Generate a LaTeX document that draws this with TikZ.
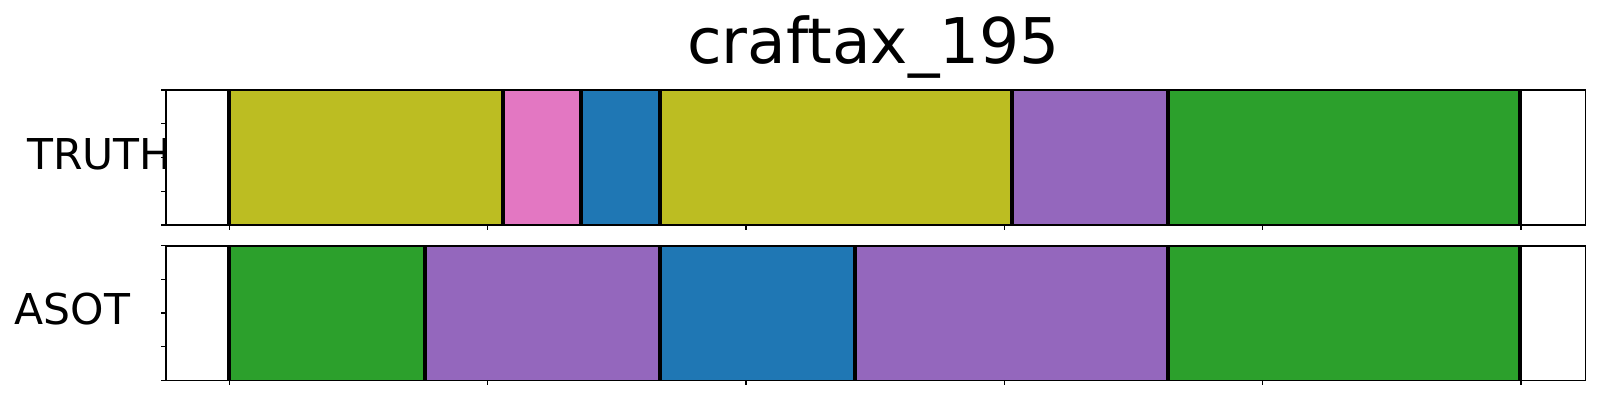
\documentclass[tikz,border=0pt]{standalone}
\usepackage{fontspec}
\setmainfont{DejaVu Sans}
\definecolor{tolive}{HTML}{BCBD22}
\definecolor{tpink}{HTML}{E377C2}
\definecolor{tblue}{HTML}{1F77B4}
\definecolor{tpurple}{HTML}{9467BD}
\definecolor{tgreen}{HTML}{2CA02C}
\begin{document}
\begin{tikzpicture}[x=1pt,y=-1pt,
  seg/.style={draw=none},
  bound/.style={line width=4pt,draw=black},
  frame/.style={line width=1.6pt,draw=black},
  tick/.style={line width=1.4pt,draw=black},
  lbl/.style={inner sep=0pt,anchor=base west,font=\fontsize{42.5}{50}\selectfont},
  ttl/.style={inner sep=0pt,anchor=base,font=\fontsize{63}{74}\selectfont}]
\useasboundingbox (0,0) rectangle (1600,400);
% top panel segments
\def\ta{90}\def\tb{225}
\fill[tolive] (229,\ta) rectangle (503,\tb);
\fill[tpink] (503,\ta) rectangle (581,\tb);
\fill[tblue] (581,\ta) rectangle (660,\tb);
\fill[tolive] (660,\ta) rectangle (1011.7,\tb);
\fill[tpurple] (1011.7,\ta) rectangle (1168,\tb);
\fill[tgreen] (1168,\ta) rectangle (1520,\tb);
\foreach \x in {229,503,581,660,1011.7,1168,1520}
  \draw[bound] (\x,\ta) -- (\x,\tb);
% bottom panel segments
\def\ba{245.7}\def\bb{380.3}
\fill[tgreen] (229,\ba) rectangle (425,\bb);
\fill[tpurple] (425,\ba) rectangle (660,\bb);
\fill[tblue] (660,\ba) rectangle (854.7,\bb);
\fill[tpurple] (854.7,\ba) rectangle (1168,\bb);
\fill[tgreen] (1168,\ba) rectangle (1520,\bb);
\foreach \x in {229,425,660,854.7,1168,1520}
  \draw[bound] (\x,\ba) -- (\x,\bb);
% frames
\draw[frame] (165.7,\ta) rectangle (1585.3,\tb);
\draw[frame] (165.7,\ba) rectangle (1585.3,\bb);
% ticks
\foreach \k in {0,...,5} {
  \draw[tick] (229.3+\k*258.3,\tb) -- ++(0,5);
  \draw[tick] (229.3+\k*258.3,\bb) -- ++(0,5);
}
\foreach \k in {0,...,4} {
  \draw[tick] (165.7,\ta+\k*33.75) -- ++(-5,0);
  \draw[tick] (165.7,\ba+\k*33.65) -- ++(-5,0);
}
% labels
\node[lbl] (truth) at (27,169.3) {TRUTH};
\node[lbl] (asot) at (14.5,324) {ASOT};
\node[ttl] (title) at (873.6,63.3) {craftax\_195};
\end{tikzpicture}
\end{document}
